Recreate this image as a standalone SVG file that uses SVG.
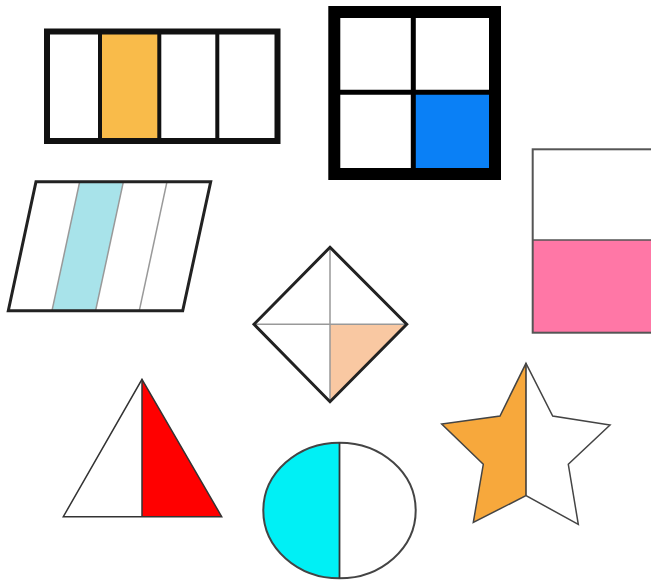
<svg xmlns="http://www.w3.org/2000/svg" width="651" height="580" viewBox="0 0 651 580">
<style>
.thin{stroke:#333;stroke-width:2;fill:none;stroke-linejoin:miter}
.gray{stroke:#999;stroke-width:1.5;fill:none}
</style>
<rect width="651" height="580" fill="#fff"/>
<g id="rect-quarters">
<rect x="100" y="31.5" width="59.5" height="109.5" fill="#F9BB4A"/>
<rect x="47" y="31.5" width="230.5" height="109.5" fill="none" stroke="#111" stroke-width="6"/>
<line x1="100" y1="31.5" x2="100" y2="141" stroke="#111" stroke-width="4"/>
<line x1="159.3" y1="31.5" x2="159.3" y2="141" stroke="#111" stroke-width="4"/>
<line x1="217.3" y1="31.5" x2="217.3" y2="141" stroke="#111" stroke-width="4"/>
</g>
<g id="square-quarters">
<rect x="414" y="93" width="77" height="77" fill="#0A80F6"/>
<rect x="334.3" y="12" width="160.7" height="162" fill="none" stroke="#000" stroke-width="12"/>
<line x1="413.3" y1="12" x2="413.3" y2="174" stroke="#000" stroke-width="5"/>
<line x1="334.3" y1="92.2" x2="495" y2="92.2" stroke="#000" stroke-width="5"/>
</g>
<g id="parallelogram">
<polygon points="79.7,181.7 123.4,181.7 95.6,310.7 52,310.7" fill="#A8E3EA"/>
<line x1="79.7" y1="181.7" x2="52" y2="310.7" class="gray"/>
<line x1="123.4" y1="181.7" x2="95.6" y2="310.7" class="gray"/>
<line x1="167" y1="181.7" x2="139.3" y2="310.7" class="gray"/>
<polygon points="36,181.7 210.7,181.7 182.7,310.7 8.3,310.7" fill="none" stroke="#222" stroke-width="3"/>
</g>
<g id="rect-halves">
<rect x="532.7" y="240" width="120" height="92.7" fill="#FF77A6"/>
<rect x="532.7" y="149.3" width="120" height="183.4" fill="none" stroke="#555" stroke-width="2"/>
<line x1="532.7" y1="240" x2="651" y2="240" stroke="#555" stroke-width="1.5"/>
</g>
<g id="diamond">
<polygon points="330,324.3 406.7,324.3 330,401.7" fill="#F9C8A2"/>
<line x1="330" y1="247.3" x2="330" y2="401.7" class="gray"/>
<line x1="254" y1="324.3" x2="406.7" y2="324.3" class="gray"/>
<polygon points="330,247.3 406.7,324.3 330,401.7 254,324.3" fill="none" stroke="#222" stroke-width="3"/>
</g>
<g id="triangle">
<polygon points="142,379.3 221.7,516.7 142,516.7" fill="#FF0000"/>
<line x1="142" y1="379.3" x2="142" y2="516.7" stroke="#333" stroke-width="1.5"/>
<polygon points="142,379.3 221.7,516.7 63.3,516.7" fill="none" stroke="#333" stroke-width="1.5"/>
</g>
<g id="circle">
<path d="M339.5,442.7 A76.2,67.8 0 0 0 339.5,578.3 Z" fill="#00F0F5"/>
<ellipse cx="339.5" cy="510.5" rx="76.2" ry="67.8" fill="none" stroke="#444" stroke-width="2"/>
<line x1="339.5" y1="442.7" x2="339.5" y2="578.3" stroke="#333" stroke-width="1.8"/>
</g>
<g id="star">
<polygon points="526,363.3 500,416 441.7,424 483.3,464.3 473.3,522.3 526,495.7" fill="#F7A83C"/>
<line x1="526" y1="363.3" x2="526" y2="495.7" stroke="#333" stroke-width="1.5"/>
<polygon points="526,363.3 552.7,416 610,425 568.3,464.3 578.3,524.3 526,495.7 473.3,522.3 483.3,464.3 441.7,424 500,416" fill="none" stroke="#444" stroke-width="1.5"/>
</g>
</svg>
